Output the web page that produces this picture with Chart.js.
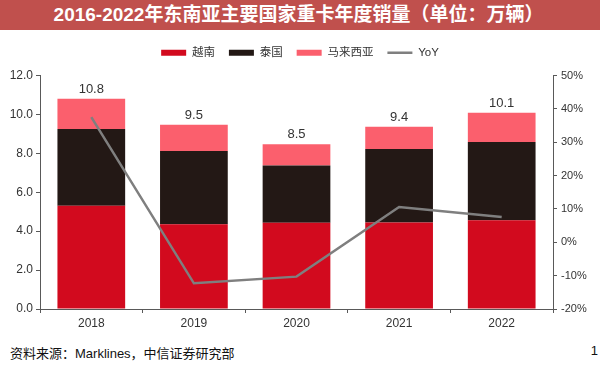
<!DOCTYPE html>
<html>
<head>
<meta charset="utf-8">
<script src="https://cdn.jsdelivr.net/npm/chart.js@4"></script>
<style>
  body { margin: 0; width: 600px; height: 374px; background: #fff; position: relative; overflow: hidden;
         font-family: "Liberation Sans", "Noto Sans CJK SC", sans-serif; }
  #title { position: absolute; left: 0; top: 0; width: 597px; height: 30px; background: #c0504d;
           color: #fff; font-weight: bold; font-size: 19px; line-height: 30px; text-align: center; padding-right: 3px; }
  #wrap { position: absolute; left: 0; top: 33px; width: 600px; height: 303px; }
  #source { position: absolute; left: 10px; top: 343px; font-size: 13px; color: #111; }
  #page { position: absolute; right: 2px; top: 343px; font-size: 13px; color: #111; }
</style>
</head>
<body>
<div id="title">2016-2022年东南亚主要国家重卡年度销量（单位：万辆）</div>
<div id="wrap"><canvas id="chart" width="600" height="303"></canvas></div>
<div id="source">资料来源：Marklines，中信证券研究部</div>
<div id="page">1</div>
<script>
// Categories and series (万辆, YoY in %)
const years = ['2018', '2019', '2020', '2021', '2022'];
const vietnam = [5.3, 4.36, 4.43, 4.44, 4.56];
const thailand = [3.95, 3.76, 2.94, 3.78, 4.02];
const malaysia = [1.55, 1.35, 1.1, 1.15, 1.5];
const yoy = [37.5, -12.3, -10.3, 10.6, 7.6];

const FONT = '"Liberation Sans", "Noto Sans CJK SC", sans-serif';
const AXIS = '#595959';

// Draw stack totals above each bar
const totalsPlugin = {
    id: 'totals',
    afterDatasetsDraw(chart) {
        const ctx = chart.ctx;
        const x = chart.scales.x, y = chart.scales.y;
        ctx.save();
        ctx.font = '13px ' + FONT;
        ctx.fillStyle = '#333';
        ctx.textAlign = 'center';
        ctx.textBaseline = 'bottom';
        years.forEach((yr, i) => {
            const total = vietnam[i] + thailand[i] + malaysia[i];
            ctx.fillText(total.toFixed(1), x.getPixelForValue(i), y.getPixelForValue(total) - 3);
        });
        ctx.restore();
    }
};

// Extra gap under the legend
const legendGap = {
    id: 'legendGap',
    beforeInit(chart) {
        const fit = chart.legend.fit;
        chart.legend.fit = function () {
            fit.call(this);
            this.height += 7;
        };
    }
};

new Chart(document.getElementById('chart'), {
    type: 'bar',
    data: {
        labels: years,
        datasets: [
            { label: '越南', data: vietnam, backgroundColor: '#d20a1e', pointStyle: 'rect', stack: 's', order: 1 },
            { label: '泰国', data: thailand, backgroundColor: '#231815', pointStyle: 'rect', stack: 's', order: 1 },
            { label: '马来西亚', data: malaysia, backgroundColor: '#fb5f6d', pointStyle: 'rect', stack: 's', order: 1 },
            {
                type: 'line', label: 'YoY', data: yoy, yAxisID: 'y1', order: 0,
                borderColor: '#7f7f7f', backgroundColor: '#7f7f7f', borderWidth: 2.5,
                pointRadius: 0, pointStyle: 'line', tension: 0
            }
        ]
    },
    options: {
        responsive: false,
        animation: false,
        events: [],
        layout: { padding: 0 },
        datasets: { bar: { categoryPercentage: 1, barPercentage: 0.66 } },
        plugins: {
            tooltip: { enabled: false },
            legend: {
                position: 'top',
                labels: {
                    usePointStyle: true, pointStyleWidth: 25, boxHeight: 6,
                    padding: 14, color: '#333', font: { family: FONT, size: 11.5 },
                    sort: (a, b) => a.datasetIndex - b.datasetIndex
                }
            }
        },
        scales: {
            x: {
                stacked: true,
                border: { display: true, color: AXIS },
                grid: { display: true, drawOnChartArea: false, offset: true, tickLength: 4, color: AXIS },
                ticks: { color: '#333', font: { family: FONT, size: 12 }, padding: 3 },
                afterFit: s => { s.height = 27; }
            },
            y: {
                stacked: true, min: 0, max: 12,
                border: { display: true, color: AXIS },
                grid: { display: true, drawOnChartArea: false, tickLength: 4, color: AXIS },
                ticks: { stepSize: 2, color: '#333', font: { family: FONT, size: 12 }, padding: 3,
                         callback: v => v.toFixed(1) },
                afterFit: s => { s.width = 40; }
            },
            y1: {
                position: 'right', min: -20, max: 50,
                border: { display: true, color: AXIS },
                grid: { display: true, drawOnChartArea: false, tickLength: 4, color: AXIS },
                ticks: { stepSize: 10, color: '#333', font: { family: FONT, size: 11 }, padding: 4,
                         callback: v => v + '%' },
                afterFit: s => { s.width = 47; }
            }
        }
    },
    plugins: [totalsPlugin, legendGap]
});
</script>
</body>
</html>
